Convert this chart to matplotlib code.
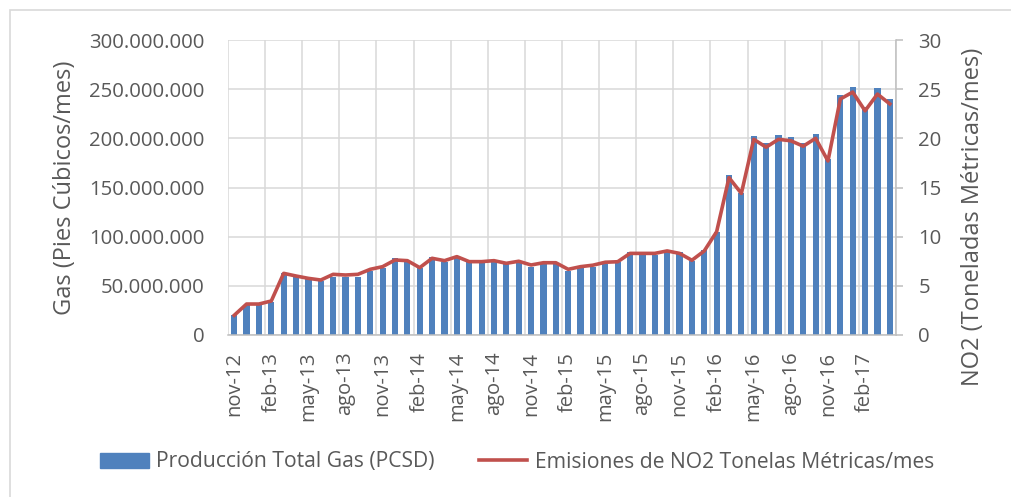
import numpy as np
import matplotlib
matplotlib.use("Agg")
import matplotlib.pyplot as plt
from matplotlib.patches import Rectangle
from matplotlib.ticker import FuncFormatter, MultipleLocator

# Producción total de gas, millones de pies cúbicos por mes (nov-12 .. abr-17)
produccion_gas = [
    20.3, 30.5, 30.5, 33.9, 63.4, 58.7, 56.6, 55.3, 59.3, 59.3, 59.3, 65.4, 67.8, 78.0,
    74.6, 67.8, 79.7, 74.6, 80.4, 73.9, 73.9, 75.6, 71.9, 74.3, 69.5, 72.9, 72.9,
    65.4, 67.8, 69.5, 72.0, 74.0, 84.0, 83.0, 81.6, 86.0, 84.0, 75.6, 86.5, 105.0,
    162.9, 144.9, 202.6, 195.2, 203.7, 201.6, 195.2, 204.0, 178.9, 244.4, 252.5, 232.2, 250.8, 240.3,
]

# Emisiones de NO2, toneladas métricas por mes
emisiones_no2 = [
    2.0, 3.15, 3.15, 3.46, 6.27, 6.0, 5.76, 5.59, 6.17, 6.1, 6.17, 6.68, 6.95, 7.63,
    7.56, 6.85, 7.8, 7.56, 7.97, 7.46, 7.46, 7.56, 7.29, 7.5, 7.12, 7.35, 7.35,
    6.68, 6.95, 7.1, 7.4, 7.45, 8.3, 8.3, 8.3, 8.55, 8.3, 7.6, 8.55, 10.5,
    16.0, 14.4, 19.9, 19.1, 19.9, 19.75, 19.2, 20.0, 17.7, 24.0, 24.7, 22.8, 24.5, 23.5,
]

# Etiquetas del eje x (una cada tres meses)
etiquetas_x = [
    "nov-12", "feb-13", "may-13", "ago-13", "nov-13", "feb-14", "may-14", "ago-14",
    "nov-14", "feb-15", "may-15", "ago-15", "nov-15", "feb-16", "may-16", "ago-16",
    "nov-16", "feb-17",
]

AZUL = "#4F81BD"
ROJO = "#C0504D"
GRIS_TEXTO = "#595959"
GRIS_REJILLA = "#D9D9D9"


def formato_miles(v, pos):
    """Formato 300.000.000 con puntos como separador de miles."""
    return f"{int(round(v * 1e6)):,}".replace(",", ".")


def main():
    plt.rcParams["font.family"] = ["Open Sans", "DejaVu Sans"]
    plt.rcParams["text.color"] = GRIS_TEXTO

    fig = plt.figure(figsize=(10.11, 4.97), dpi=100)
    # marco gris del gráfico
    fig.patches.append(Rectangle((10 / 1011, -0.1), 1.1, 1.1 - 10 / 497,
                                 transform=fig.transFigure, fill=False,
                                 edgecolor="#D9D9D9", lw=1.2))
    ax = fig.add_axes([228 / 1011, 1 - 335 / 497, (896 - 228) / 1011, 295 / 497])

    x = np.arange(len(produccion_gas))
    ax.bar(x, produccion_gas, width=0.5, color=AZUL, zorder=2)
    ax.set_xlim(-0.5, len(x) - 0.5)
    ax.set_ylim(0, 300)
    ax.yaxis.set_major_locator(MultipleLocator(50))
    ax.yaxis.set_major_formatter(FuncFormatter(formato_miles))

    ax.set_xticks(x[::3])
    ax.set_xticklabels(etiquetas_x, rotation=90)
    ax.set_xticks(np.arange(-0.5, len(x), 3), minor=True)
    ax.grid(axis="y", color=GRIS_REJILLA, lw=1.1)
    ax.grid(axis="x", which="minor", color=GRIS_REJILLA, lw=1.1)
    ax.set_axisbelow(True)

    ax.tick_params(axis="y", length=0, pad=17, labelsize=14.7, labelcolor=GRIS_TEXTO)
    ax.tick_params(axis="x", which="both", length=0, pad=12, labelsize=14.5, labelcolor=GRIS_TEXTO)
    for lado in ["top", "right", "left"]:
        ax.spines[lado].set_visible(False)
    ax.spines["bottom"].set_color("#BFBFBF")
    ax.spines["bottom"].set_linewidth(1.1)
    ax.set_ylabel("Gas (Pies Cúbicos/mes)", fontsize=17, color=GRIS_TEXTO, labelpad=9)

    ax2 = ax.twinx()
    ax2.plot(x, emisiones_no2, color=ROJO, lw=2.6, solid_joinstyle="round")
    ax2.set_ylim(0, 30)
    ax2.yaxis.set_major_locator(MultipleLocator(5))
    ax2.tick_params(axis="y", length=5, width=1.1, color="#BFBFBF", pad=11,
                    labelsize=14.7, labelcolor=GRIS_TEXTO)
    for lado in ["top", "left", "bottom"]:
        ax2.spines[lado].set_visible(False)
    ax2.spines["right"].set_color("#BFBFBF")
    ax2.spines["right"].set_linewidth(1.1)
    ax2.set_ylabel("NO2 (Toneladas Métricas/mes)", fontsize=17, color=GRIS_TEXTO)
    ax2.yaxis.set_label_coords(1.097, 0.40)

    h1 = Rectangle((0, 0), 1, 1, color=AZUL)
    h2 = plt.Line2D([0], [0], color=ROJO, lw=2.6)
    fig.legend([h1, h2], ["Producción Total Gas (PCSD)", "Emisiones de NO2 Tonelas Métricas/mes"],
               loc="center", bbox_to_anchor=(517 / 1011, 1 - 462 / 497), ncol=2,
               frameon=False, fontsize=15.2, handlelength=2.3, handleheight=0.7,
               handletextpad=0.35, columnspacing=2.1, labelcolor=GRIS_TEXTO)

    fig.savefig("out.png", dpi=100)


if __name__ == "__main__":
    main()
